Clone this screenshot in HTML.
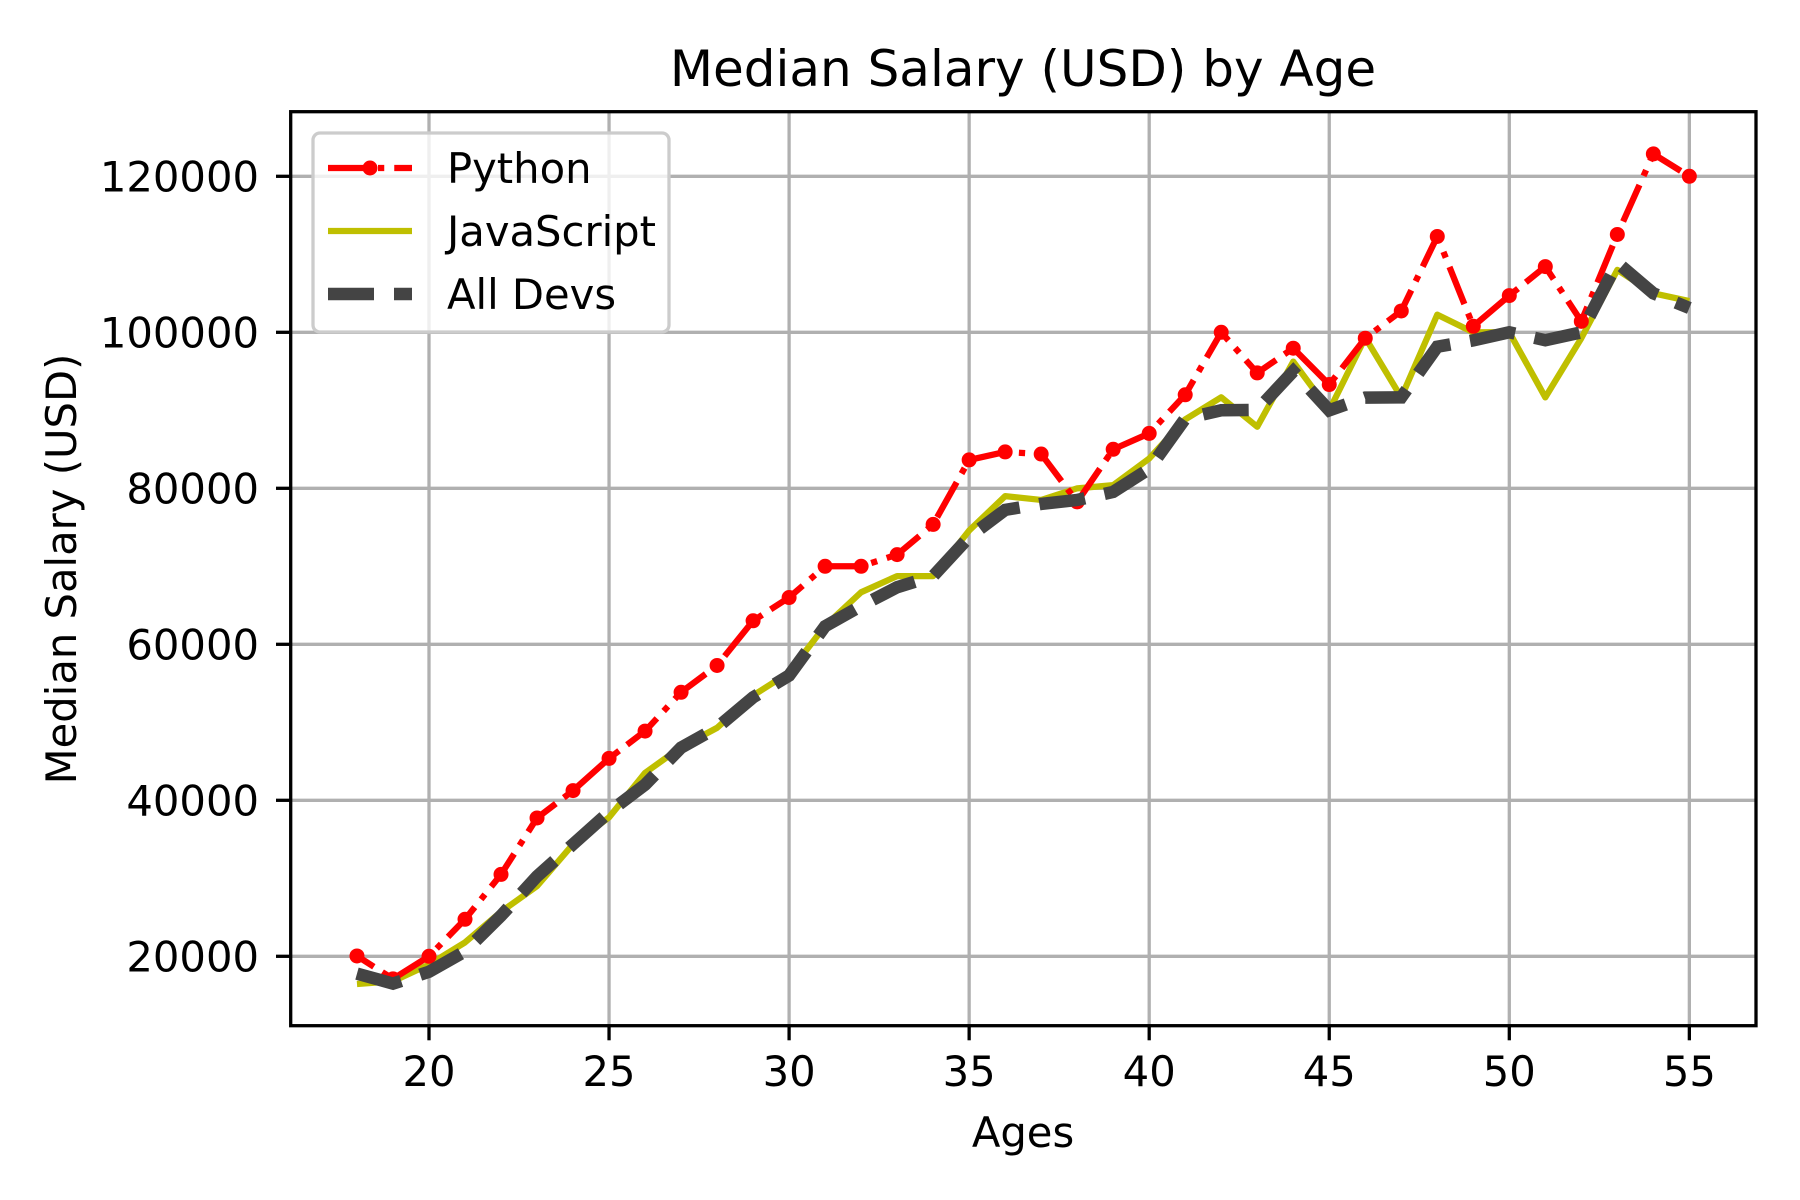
<!DOCTYPE html>
<html><head><meta charset="utf-8"><style>
html,body{margin:0;padding:0;background:#fff;}
svg{display:block;font-family:"DejaVu Sans","Liberation Sans",sans-serif;}
</style></head><body>
<svg id="chart" width="1800" height="1200" viewBox="0 0 1800 1200" xmlns="http://www.w3.org/2000/svg">
<rect width="1800" height="1200" fill="#fff"/>
<g id="grid"></g>
<g id="series"></g>
<rect x="290.7" y="111.7" width="1465.3" height="914" fill="none" stroke="#000" stroke-width="3.3"/>
<g id="ticks"></g>
<text x="1023" y="86" font-size="50" text-anchor="middle">Median Salary (USD) by Age</text>
<text x="1023" y="1147" font-size="41.7" text-anchor="middle">Ages</text>
<text x="0" y="0" font-size="41.7" text-anchor="middle" transform="translate(76,569) rotate(-90)">Median Salary (USD)</text>
<g>
<rect x="313" y="133" width="356" height="199" rx="7" fill="#fff" fill-opacity="0.8" stroke="#cccccc" stroke-width="3.3"/>
<g>
<line x1="328" y1="168" x2="412" y2="168" stroke="#ff0000" stroke-width="6.25" stroke-dasharray="40,10,6.25,10"/>
<circle cx="370" cy="168" r="7.5" fill="#ff0000"/>
<text x="447" y="183" font-size="41.7">Python</text></g>
<g>
<line x1="328" y1="231" x2="412" y2="231" stroke="#bfbf00" stroke-width="6.25"/>
<text x="447" y="246" font-size="41.7">JavaScript</text></g>
<g>
<line x1="328" y1="294" x2="412" y2="294" stroke="#444444" stroke-width="12.5" stroke-dasharray="46,20"/>
<text x="447" y="309" font-size="41.7">All Devs</text></g>
</g>
</svg>
<script>
const ages = [18,19,20,21,22,23,24,25,26,27,28,29,30,31,32,33,34,35,36,37,38,39,40,41,42,43,44,45,46,47,48,49,50,51,52,53,54,55];
const pyDev = [20046,17100,20000,24744,30500,37732,41247,45372,48876,53850,57287,63016,65998,70003,70000,71496,75370,83640,84666,84392,78254,85000,87038,91991,100000,94796,97962,93302,99240,102736,112285,100771,104708,108423,101407,112542,122870,120000];
const jsDev = [16446,16791,18942,21780,25704,29000,34372,37810,43515,46823,49293,53437,56373,62375,66674,68745,68746,74583,79000,78508,79996,80403,83820,88833,91660,87892,96243,90000,99313,91660,102264,100000,100000,91660,99240,108000,105000,104000];
const allDev = [17784,16500,18012,20628,25206,30252,34368,38496,42000,46752,49320,53200,56000,62316,64928,67317,68748,73752,77232,78000,78508,79536,82488,88935,90000,90056,95000,90000,91633,91660,98150,98964,100000,98988,100000,108923,105000,103117];
const xTicks = [20,25,30,35,40,45,50,55];
const yTicks = [20000,40000,60000,80000,100000,120000];

const NS = 'http://www.w3.org/2000/svg';
function xs(a){ return 429 + (a-20)*36.01; }
function ys(v){ return 956.3 - (v-20000)*(156/20000); }
function mk(tag, attrs, parent){
  const e = document.createElementNS(NS, tag);
  for (const k in attrs) e.setAttribute(k, attrs[k]);
  parent.appendChild(e); return e;
}
const grid = document.getElementById('grid');
const ticks = document.getElementById('ticks');
const series = document.getElementById('series');

xTicks.forEach(t => {
  const x = xs(t);
  const g = mk('line', {x1:x, y1:111.7, x2:x, y2:1025.7, stroke:'#b0b0b0', 'stroke-width':3.3}, grid);
  
  
  const tk = mk('line', {x1:x, y1:1025.7, x2:x, y2:1040.3, stroke:'#000', 'stroke-width':3.3}, ticks);
  
  
  const lb = mk('text', {x:x, y:1086, 'font-size':41.7, 'text-anchor':'middle'}, ticks);
  lb.textContent = t;
  
  
});
yTicks.forEach(t => {
  const y = ys(t);
  const g = mk('line', {x1:290.7, y1:y, x2:1756, y2:y, stroke:'#b0b0b0', 'stroke-width':3.3}, grid);
  
  
  const tk = mk('line', {x1:276, y1:y, x2:290.7, y2:y, stroke:'#000', 'stroke-width':3.3}, ticks);
  
  
  const lb = mk('text', {x:259, y:y+15, 'font-size':41.7, 'text-anchor':'end'}, ticks);
  lb.textContent = t;
  
  
});

function pts(vals){ return vals.map((v,i)=>xs(ages[i])+','+ys(v)).join(' '); }

const jsLine = mk('polyline', {points:pts(jsDev), fill:'none', stroke:'#bfbf00', 'stroke-width':6.25, 'stroke-linejoin':'round'}, series);



const pyLine = mk('polyline', {points:pts(pyDev), fill:'none', stroke:'#ff0000', 'stroke-width':6.25, 'stroke-dasharray':'40,10,6.25,10', 'stroke-dashoffset':20, 'stroke-linejoin':'round'}, series);


pyDev.forEach((v,i) => {
  const c = mk('circle', {cx:xs(ages[i]), cy:ys(v), r:7.5, fill:'#ff0000'}, series);
  
  
});

const allLine = mk('polyline', {points:pts(allDev), fill:'none', stroke:'#444444', 'stroke-width':12.5, 'stroke-dasharray':'46,20'}, series);


</script>
</body></html>
